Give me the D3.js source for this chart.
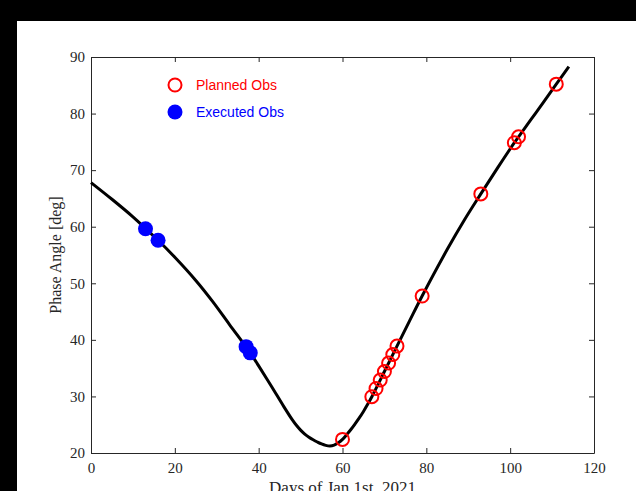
<!DOCTYPE html>
<html>
<head>
<meta charset="utf-8">
<script src="https://cdn.jsdelivr.net/npm/d3@7/dist/d3.min.js"></script>
<style>
  html, body { margin: 0; padding: 0; background: #000; }
  svg { display: block; }
</style>
</head>
<body>
<svg id="chart" width="636" height="491"></svg>
<script>
// ---- Data ----
const curveDays  = [0, 5, 10, 13, 16, 20, 25, 29, 33, 37, 38, 40, 43, 46, 48, 49, 50, 51, 52, 53, 54, 55, 56, 57, 58, 59, 60, 61, 62, 63, 64, 65, 66, 67, 70, 73, 76, 79, 85, 89, 93, 97, 101, 102, 106, 111, 114];
const curvePhase = [67.8, 64.85, 61.75, 59.7, 57.6, 54.6, 50.5, 46.8, 42.75, 38.75, 37.7, 35.4, 31.85, 28.2, 25.9, 24.9, 24.05, 23.35, 22.8, 22.35, 21.95, 21.6, 21.35, 21.25, 21.4, 21.8, 22.4, 23.25, 24.15, 25.15, 26.2, 27.35, 28.6, 29.95, 34.4, 38.9, 43.35, 47.75, 56.0, 61.1, 65.8, 70.4, 74.85, 75.9, 80.0, 85.2, 88.3];

const plannedDays  = [60, 67, 68, 69, 70, 71, 72, 73, 79, 93, 101, 102, 111];
const plannedPhase = [22.4, 29.95, 31.4, 32.9, 34.4, 35.9, 37.4, 38.9, 47.75, 65.8, 74.85, 75.9, 85.2];

const executedDays  = [13, 16, 37, 38];
const executedPhase = [59.65, 57.6, 38.8, 37.7];

const xTicks = [0, 20, 40, 60, 80, 100, 120];
const yTicks = [20, 30, 40, 50, 60, 70, 80, 90];

const legendLabels = ["Planned Obs", "Executed Obs"];

// ---- Layout ----
const svg = d3.select("#chart");
const W = 636, H = 491;
svg.append("rect").attr("x", 0).attr("y", 0).attr("width", W).attr("height", H).attr("fill", "#000");
svg.append("rect").attr("x", 17).attr("y", 21).attr("width", W - 17).attr("height", H - 21).attr("fill", "#fff");

const mLeft = 91, mRight = 594, mTop = 57, mBottom = 453;
const x = d3.scaleLinear().domain([0, 120]).range([mLeft, mRight]);
const y = d3.scaleLinear().domain([20, 90]).range([mBottom, mTop]);

const axisColor = "#262626";
const serif = "'Liberation Serif', 'Times New Roman', serif";

// Axes
const gx = svg.append("g").attr("transform", `translate(0,${mBottom})`)
  .call(d3.axisBottom(x).tickValues(xTicks).tickSizeInner(-5).tickSizeOuter(0).tickPadding(9));
const gxTop = svg.append("g").attr("transform", `translate(0,${mTop})`)
  .call(d3.axisTop(x).tickValues(xTicks).tickSizeInner(-5).tickSizeOuter(0).tickFormat(""));
const gy = svg.append("g").attr("transform", `translate(${mLeft},0)`)
  .call(d3.axisLeft(y).tickValues(yTicks).tickSizeInner(-5).tickSizeOuter(0).tickPadding(6));
const gyRight = svg.append("g").attr("transform", `translate(${mRight},0)`)
  .call(d3.axisRight(y).tickValues(yTicks).tickSizeInner(-5).tickSizeOuter(0).tickFormat(""));

[gx, gxTop, gy, gyRight].forEach(g => {
  g.selectAll(".domain").attr("stroke", axisColor).attr("stroke-width", 1);
  g.selectAll(".tick line").attr("stroke", axisColor).attr("stroke-width", 1);
  g.selectAll(".tick text").attr("fill", axisColor)
    .style("font-family", serif).style("font-size", "15px");
});

// Axis labels
svg.append("text")
  .attr("x", (mLeft + mRight) / 2).attr("y", 493)
  .attr("text-anchor", "middle")
  .style("font-family", serif).style("font-size", "17px")
  .attr("fill", axisColor)
  .text("Days of Jan 1st, 2021");

svg.append("text")
  .attr("transform", `translate(61,${(mTop + mBottom) / 2}) rotate(-90)`)
  .attr("text-anchor", "middle")
  .style("font-family", serif).style("font-size", "16px")
  .attr("fill", axisColor)
  .text("Phase Angle [deg]");

// Curve
const curveData = curveDays.map((d, i) => [d, curvePhase[i]]);
svg.append("path")
  .datum(curveData)
  .attr("fill", "none")
  .attr("stroke", "#000")
  .attr("stroke-width", 3)
  .attr("stroke-linejoin", "round")
  .attr("d", d3.line().x(d => x(d[0])).y(d => y(d[1])).curve(d3.curveCatmullRom.alpha(0.5)));

// Executed (filled blue)
svg.append("g").selectAll("circle")
  .data(executedDays.map((d, i) => [d, executedPhase[i]]))
  .join("circle")
  .attr("cx", d => x(d[0])).attr("cy", d => y(d[1]))
  .attr("r", 7.5)
  .attr("fill", "#0000ff");

// Planned (open red)
svg.append("g").selectAll("circle")
  .data(plannedDays.map((d, i) => [d, plannedPhase[i]]))
  .join("circle")
  .attr("cx", d => x(d[0])).attr("cy", d => y(d[1]))
  .attr("r", 6.5)
  .attr("fill", "none")
  .attr("stroke", "#ff0000")
  .attr("stroke-width", 2);

// Legend
const sans = "'Liberation Sans', Arial, sans-serif";
const lg = svg.append("g");
lg.append("circle").attr("cx", 175).attr("cy", 85).attr("r", 6.5)
  .attr("fill", "none").attr("stroke", "#ff0000").attr("stroke-width", 2);
lg.append("text").attr("x", 196).attr("y", 90)
  .style("font-family", sans).style("font-size", "14px").attr("fill", "#ff0000")
  .text(legendLabels[0]);
lg.append("circle").attr("cx", 175).attr("cy", 112).attr("r", 7.5).attr("fill", "#0000ff");
lg.append("text").attr("x", 196).attr("y", 117)
  .style("font-family", sans).style("font-size", "14px").attr("fill", "#0000ff")
  .text(legendLabels[1]);
</script>
</body>
</html>
